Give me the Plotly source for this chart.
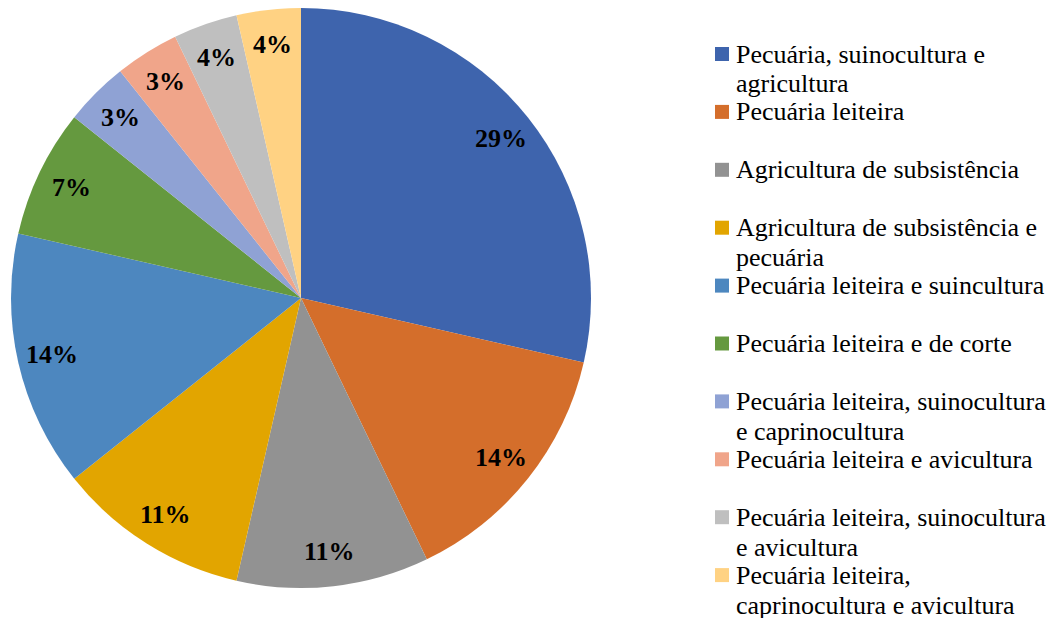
import numpy as np
import plotly.graph_objects as go

W, H = 1056, 618
OFF = 8  # margem padrão do <body> na página

categorias = [
    'Pecuária, suinocultura e<br>agricultura',
    'Pecuária leiteira',
    'Agricultura de subsistência',
    'Agricultura de subsistência e<br>pecuária',
    'Pecuária leiteira e suincultura',
    'Pecuária leiteira e de corte',
    'Pecuária leiteira, suinocultura<br>e caprinocultura',
    'Pecuária leiteira e avicultura',
    'Pecuária leiteira, suinocultura<br>e avicultura',
    'Pecuária leiteira,<br>caprinocultura e avicultura',
]
valores = [8, 4, 3, 3, 4, 2, 1, 1, 1, 1]
rotulos = ['29%', '14%', '11%', '11%', '14%', '7%', '3%', '3%', '4%', '4%']
cores = ['#3E64AD', '#D46E2B', '#929292', '#E2A500', '#4D87BF',
         '#65993F', '#8FA2D4', '#F0A58A', '#BFBFBF', '#FFD283']

FONTE = 'Times New Roman, Liberation Serif, serif'

# geometria da pizza (pixels da figura)
cx, cy, R = 301 - OFF, 298 - OFF, 290
dom_x = [(cx - R) / W, (cx + R) / W]
dom_y = [1 - (cy + R) / H, 1 - (cy - R) / H]

fig = go.Figure()
fig.add_trace(go.Pie(
    labels=[c.replace('<br>', ' ') for c in categorias],
    values=valores,
    sort=False,
    direction='clockwise',
    rotation=0,
    marker=dict(colors=cores, line=dict(width=0)),
    textinfo='none',
    hoverinfo='label+percent',
    domain=dict(x=dom_x, y=dom_y),
    showlegend=False,
))

# rótulos de porcentagem posicionados a partir dos valores
total = sum(valores)
acum = np.cumsum([0] + valores)
for i, txt in enumerate(rotulos):
    ang = 2 * np.pi * (acum[i] + valores[i] / 2) / total
    r = 0.88 * R
    px_ = cx + r * np.sin(ang)
    py_ = cy - r * np.cos(ang)
    fig.add_annotation(
        x=px_ / W, y=1 - py_ / H, xref='paper', yref='paper',
        xanchor='center', yanchor='middle',
        text='<b>' + txt + '</b>', showarrow=False,
        font=dict(family=FONTE, size=26, color='black'),
    )

# legenda no estilo do Excel (espaçamento uniforme, entrelinha 1.15)
leg_x, leg_y0, leg_passo, entrelinha = 715 - OFF, 54 - OFF, 57.9, 30
for i, (cat, cor) in enumerate(zip(categorias, cores)):
    yc = leg_y0 + leg_passo * i
    fig.add_shape(
        type='rect', xref='paper', yref='paper',
        x0=leg_x / W, x1=(leg_x + 14) / W,
        y0=1 - (yc + 7) / H, y1=1 - (yc - 7) / H,
        fillcolor=cor, line=dict(width=0),
    )
    for j, linha in enumerate(cat.split('<br>')):
        fig.add_annotation(
            x=(leg_x + 19) / W, y=1 - (yc + j * entrelinha) / H,
            xref='paper', yref='paper', xanchor='left', yanchor='middle',
            text=linha, showarrow=False,
            font=dict(family=FONTE, size=26, color='black'),
        )

fig.update_layout(
    width=W, height=H,
    margin=dict(l=0, r=0, t=0, b=0),
    paper_bgcolor='white',
    plot_bgcolor='white',
    font=dict(family=FONTE, color='black'),
    showlegend=False,
)

fig.write_html('out.html')
